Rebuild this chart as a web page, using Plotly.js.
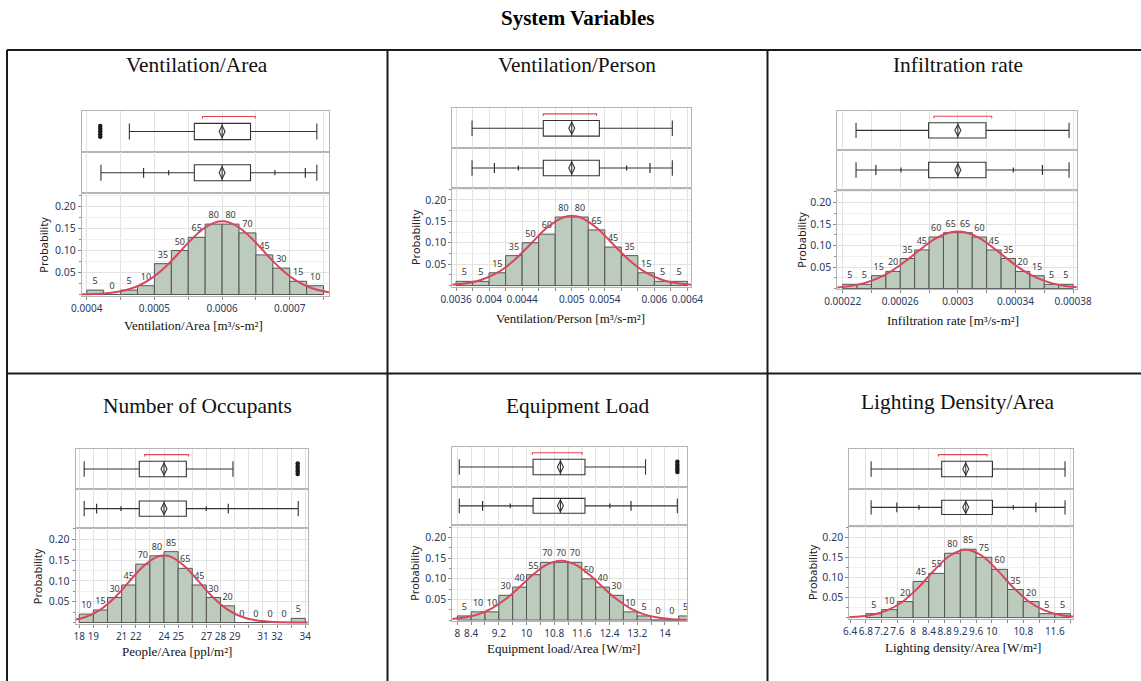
<!DOCTYPE html>
<html>
<head>
<meta charset="utf-8">
<script src="https://cdn.plot.ly/plotly-3.0.1.min.js"></script>
<style>
  html, body { margin: 0; padding: 0; background: #ffffff; }
  #chart { width: 1141px; height: 681px; }
</style>
</head>
<body>
<div id="chart"></div>
<script>
// ---------------- Ventilation/Area ----------------
const ventAreaCounts = [5, 0, 5, 10, 35, 50, 65, 80, 80, 70, 45, 30, 15, 10];
const ventAreaBinStart = 0.0004;
const ventAreaBinWidth = 0.000025;
const ventAreaBox = [0.000463, 0.000559, 0.0006, 0.000642, 0.00074];          // whisker lo, Q1, median, Q3, whisker hi
const ventAreaMean = 0.0006;
const ventAreaShortestHalf = [0.000571, 0.000649];
const ventAreaOutliers = [0.00042, 0.00042, 0.00042, 0.00042, 0.00042];
const ventAreaQuantiles = [0.000421, 0.000484, 0.000521, 0.000678, 0.000723, 0.00074]; // min, 2.5%, 10%, 90%, 97.5%, max
const ventAreaCurveX = [0.00039, 0.00041, 0.00043, 0.00045, 0.00047, 0.00049, 0.00051, 0.00053, 0.00055, 0.00057, 0.00059, 0.0006,
                        0.00061, 0.00063, 0.00065, 0.00067, 0.00069, 0.00071, 0.00073, 0.00075, 0.00077];
const ventAreaCurveY = [0.0004, 0.0011, 0.0030, 0.0073, 0.0159, 0.0310, 0.0540, 0.0841, 0.1175, 0.1467, 0.1639, 0.1662,
                        0.1639, 0.1467, 0.1175, 0.0841, 0.0540, 0.0310, 0.0159, 0.0073, 0.0030];
const ventAreaTickVals = [0.0004, 0.0005, 0.0006, 0.0007];
const ventAreaTickText = ['0.0004', '0.0005', '0.0006', '0.0007'];

// ---------------- Ventilation/Person ----------------
const ventPersonCounts = [5, 5, 15, 35, 50, 60, 80, 80, 65, 45, 35, 15, 5, 5];
const ventPersonBinStart = 0.0036;
const ventPersonBinWidth = 0.0002;
const ventPersonBox = [0.003794, 0.004656, 0.005, 0.005334, 0.006217];
const ventPersonMean = 0.005;
const ventPersonShortestHalf = [0.004656, 0.005301];
const ventPersonOutliers = [];
const ventPersonQuantiles = [0.003794, 0.004064, 0.004354, 0.005664, 0.005947, 0.006217];
const ventPersonCurveX = [0.0035, 0.0037, 0.0039, 0.0041, 0.0043, 0.0045, 0.0047, 0.0049, 0.005,
                          0.0051, 0.0053, 0.0055, 0.0057, 0.0059, 0.0061, 0.0063, 0.0065];
const ventPersonCurveY = [0.0015, 0.0048, 0.0131, 0.0301, 0.0587, 0.0967, 0.1350, 0.1594, 0.1628,
                          0.1594, 0.1350, 0.0967, 0.0587, 0.0301, 0.0131, 0.0048, 0.0015];
const ventPersonTickVals = [0.0036, 0.004, 0.0044, 0.005, 0.0054, 0.006, 0.0064];
const ventPersonTickText = ['0.0036', '0.004', '0.0044', '0.005', '0.0054', '0.006', '0.0064'];

// ---------------- Infiltration rate ----------------
const infilCounts = [5, 5, 15, 20, 35, 45, 60, 65, 65, 60, 45, 35, 20, 15, 5, 5];
const infilBinStart = 0.00022;
const infilBinWidth = 0.00001;
const infilBox = [0.0002293, 0.0002797, 0.0003, 0.0003195, 0.0003772];
const infilMean = 0.0003;
const infilShortestHalf = [0.0002834, 0.0003235];
const infilOutliers = [];
const infilQuantiles = [0.0002293, 0.0002431, 0.0002605, 0.0003385, 0.0003587, 0.0003772];
const infilCurveX = [0.000215, 0.000225, 0.000235, 0.000245, 0.000255, 0.000265, 0.000275, 0.000285, 0.000295, 0.0003,
                     0.000305, 0.000315, 0.000325, 0.000335, 0.000345, 0.000355, 0.000365, 0.000375, 0.000385];
const infilCurveY = [0.0024, 0.0058, 0.0127, 0.0248, 0.0432, 0.0673, 0.0940, 0.1174, 0.1312, 0.1330,
                     0.1312, 0.1174, 0.0940, 0.0673, 0.0432, 0.0248, 0.0127, 0.0058, 0.0024];
const infilTickVals = [0.00022, 0.00026, 0.0003, 0.00034, 0.00038];
const infilTickText = ['0.00022', '0.00026', '0.0003', '0.00034', '0.00038'];

// ---------------- Number of Occupants ----------------
const occCounts = [10, 15, 30, 45, 70, 80, 85, 65, 45, 30, 20, 0, 0, 0, 0, 5];
const occBinStart = 18;
const occBinWidth = 1;
const occBox = [18.35, 22.25, 24.0, 25.58, 28.88];
const occMean = 24.0;
const occShortestHalf = [22.63, 25.74];
const occOutliers = [33.46, 33.46, 33.46, 33.46, 33.46];
const occQuantiles = [18.35, 19.23, 20.95, 26.99, 28.55, 33.5];
const occCurveX = [17.5, 18.5, 19.5, 20.5, 21.5, 22.5, 23.5, 24, 24.5, 25.5, 26.5, 27.5, 28.5, 29.5, 30.5, 31.5, 32.5, 33.5, 34.5];
const occCurveY = [0.0052, 0.0138, 0.0310, 0.0594, 0.0968, 0.1340, 0.1577, 0.1609, 0.1577, 0.1340, 0.0968, 0.0594,
                   0.0310, 0.0138, 0.0052, 0.0017, 0.0005, 0.0001, 0.0000];
const occTickVals = [18, 19, 21, 22, 24, 25, 27, 28, 29, 31, 32, 34];
const occTickText = ['18', '19', '21', '22', '24', '25', '27', '28', '29', '31', '32', '34'];

// ---------------- Equipment Load ----------------
const equipCounts = [5, 10, 10, 30, 40, 55, 70, 70, 70, 50, 40, 30, 10, 5, 0, 0, 5];
const equipBinStart = 8;
const equipBinWidth = 0.4;
const equipBox = [8.058, 10.19, 10.98, 11.69, 13.44];
const equipMean = 10.98;
const equipShortestHalf = [10.17, 11.61];
const equipOutliers = [14.36, 14.36, 14.36, 14.36, 14.36];
const equipQuantiles = [8.058, 8.73, 9.53, 12.41, 13.02, 14.36];
const equipCurveX = [7.8, 8.2, 8.6, 9.0, 9.4, 9.8, 10.2, 10.6, 11.0, 11.4, 11.8, 12.2, 12.6, 13.0, 13.4, 13.8, 14.2, 14.6, 15.0];
const equipCurveY = [0.0023, 0.0060, 0.0139, 0.0284, 0.0509, 0.0802, 0.1109, 0.1348, 0.1438, 0.1348, 0.1109, 0.0802,
                     0.0509, 0.0284, 0.0139, 0.0060, 0.0023, 0.0007, 0.0002];
const equipTickVals = [8, 8.4, 9.2, 10, 10.8, 11.6, 12.4, 13.2, 14];
const equipTickText = ['8', '8.4', '9.2', '10', '10.8', '11.6', '12.4', '13.2', '14'];

// ---------------- Lighting Density/Area ----------------
const lightCounts = [5, 10, 20, 45, 55, 80, 85, 75, 60, 35, 20, 5, 5];
const lightBinStart = 6.8;
const lightBinWidth = 0.4;
const lightBox = [6.934, 8.727, 9.338, 10.017, 11.86];
const lightMean = 9.338;
const lightShortestHalf = [8.643, 9.883];
const lightOutliers = [];
const lightQuantiles = [6.934, 7.587, 8.149, 10.544, 11.12, 11.86];
const lightCurveX = [6.34, 6.54, 6.94, 7.34, 7.74, 8.14, 8.54, 8.94, 9.34, 9.74, 10.14, 10.54, 10.94, 11.34, 11.74, 12.14];
const lightCurveY = [0.0011, 0.0021, 0.0067, 0.0180, 0.0403, 0.0754, 0.1180, 0.1544, 0.1689, 0.1544, 0.1180, 0.0754,
                     0.0403, 0.0180, 0.0067, 0.0021];
const lightTickVals = [6.4, 6.8, 7.2, 7.6, 8, 8.4, 8.8, 9.2, 9.6, 10, 10.8, 11.6];
const lightTickText = ['6.4', '6.8', '7.2', '7.6', '8', '8.4', '8.8', '9.2', '9.6', '10', '10.8', '11.6'];

const probTickVals = [0.05, 0.10, 0.15, 0.20];
const probTickText = ['0.05', '0.10', '0.15', '0.20'];

// ---------------- page geometry and styles ----------------
const W = 1141, H = 681;
const px = v => v / W;
const py = v => 1 - v / H;

const SANS = 'Noto Sans, Open Sans, sans-serif';
const SERIF = 'Liberation Serif, Times New Roman, serif';
const TICK_COLOR = '#2b3a5f';
const TICK_SIZE = 10;
const FRAME = '#b4b4b4';
const GRID = '#e2e2e2';
const GRID_MINOR = '#efefef';
const INK = '#333333';
const BAR_FILL = '#bccbbb';
const BAR_EDGE = '#555555';
const CURVE = '#d8455c';
const BRACKET = '#e5454f';
const BOX_W = 0.78;
const BRACKET_Y = 0.72;
const JITTER = [0.27, 0.13, 0.0, -0.13, -0.25];

const panels = [
  { title: 'Ventilation/Area', xTitle: 'Ventilation/Area [m³/s-m²]',
    counts: ventAreaCounts, binStart: ventAreaBinStart, binWidth: ventAreaBinWidth,
    box: ventAreaBox, mean: ventAreaMean, half: ventAreaShortestHalf, outliers: ventAreaOutliers,
    quant: ventAreaQuantiles, curveX: ventAreaCurveX, curveY: ventAreaCurveY,
    tickVals: ventAreaTickVals, tickText: ventAreaTickText,
    f: { l: 82, r: 329, t1: 110.7, t2: 152.3, t3: 193.3, b: 296 },
    xRange: [0.000393, 0.000758], yRange: [-0.0034, 0.230], grid0: 0.0004, gridStep: 0.00005,
    titlePos: [197, 65], xTitlePos: [193, 326], probX: 44 },
  { title: 'Ventilation/Person', xTitle: 'Ventilation/Person [m³/s-m²]',
    counts: ventPersonCounts, binStart: ventPersonBinStart, binWidth: ventPersonBinWidth,
    box: ventPersonBox, mean: ventPersonMean, half: ventPersonShortestHalf, outliers: ventPersonOutliers,
    quant: ventPersonQuantiles, curveX: ventPersonCurveX, curveY: ventPersonCurveY,
    tickVals: ventPersonTickVals, tickText: ventPersonTickText,
    f: { l: 452.3, r: 691, t1: 108.3, t2: 148.3, t3: 187.7, b: 286.5 },
    xRange: [0.003555, 0.006443], yRange: [-0.002, 0.2284], grid0: 0.0036, gridStep: 0.0002,
    titlePos: [577, 65], xTitlePos: [570, 318], probX: 415 },
  { title: 'Infiltration rate', xTitle: 'Infiltration rate [m³/s-m²]',
    counts: infilCounts, binStart: infilBinStart, binWidth: infilBinWidth,
    box: infilBox, mean: infilMean, half: infilShortestHalf, outliers: infilOutliers,
    quant: infilQuantiles, curveX: infilCurveX, curveY: infilCurveY,
    tickVals: infilTickVals, tickText: infilTickText,
    f: { l: 837.3, r: 1076.7, t1: 110.7, t2: 150, t3: 190, b: 289.3 },
    xRange: [0.0002163, 0.0003825], yRange: [-0.0016, 0.2293], grid0: 0.00022, gridStep: 0.00002,
    titlePos: [958, 65], xTitlePos: [953, 320], probX: 802 },
  { title: 'Number of Occupants', xTitle: 'People/Area [ppl/m²]',
    counts: occCounts, binStart: occBinStart, binWidth: occBinWidth,
    box: occBox, mean: occMean, half: occShortestHalf, outliers: occOutliers,
    quant: occQuantiles, curveX: occCurveX, curveY: occCurveY,
    tickVals: occTickVals, tickText: occTickText,
    f: { l: 75.7, r: 307.7, t1: 449, t2: 489, t3: 528.3, b: 624 },
    xRange: [17.75, 34.17], yRange: [-0.0036, 0.2261], grid0: 18, gridStep: 1,
    titlePos: [197, 406], xTitlePos: [177, 651], probX: 37 },
  { title: 'Equipment Load', xTitle: 'Equipment load/Area [W/m²]',
    counts: equipCounts, binStart: equipBinStart, binWidth: equipBinWidth,
    box: equipBox, mean: equipMean, half: equipShortestHalf, outliers: equipOutliers,
    quant: equipQuantiles, curveX: equipCurveX, curveY: equipCurveY,
    tickVals: equipTickVals, tickText: equipTickText,
    f: { l: 452.3, r: 686.7, t1: 447.3, t2: 486.7, t3: 525, b: 620.7 },
    xRange: [7.855, 14.63], yRange: [-0.0015, 0.2304], grid0: 8, gridStep: 0.4,
    titlePos: [577, 406], xTitlePos: [563, 648], probX: 415 },
  { title: 'Lighting Density/Area', xTitle: 'Lighting density/Area [W/m²]',
    counts: lightCounts, binStart: lightBinStart, binWidth: lightBinWidth,
    box: lightBox, mean: lightMean, half: lightShortestHalf, outliers: lightOutliers,
    quant: lightQuantiles, curveX: lightCurveX, curveY: lightCurveY,
    tickVals: lightTickVals, tickText: lightTickText,
    f: { l: 849.3, r: 1073.3, t1: 449, t2: 489, t3: 525.7, b: 618.5 },
    xRange: [6.38, 12.07], yRange: [-0.002, 0.2284], grid0: 6.4, gridStep: 0.4,
    titlePos: [958, 402], xTitlePos: [963, 647], probX: 812 }
];

const traces = [];
const layout = {
  width: W, height: H,
  margin: { l: 0, r: 0, t: 0, b: 0 },
  paper_bgcolor: '#ffffff', plot_bgcolor: '#ffffff',
  showlegend: false,
  font: { family: SANS, color: INK },
  annotations: [], shapes: []
};

const axName = k => (k === 1 ? '' : String(k));

function frameAxis(extra) {
  return Object.assign({
    showline: true, mirror: true, linecolor: FRAME, linewidth: 1,
    zeroline: false, fixedrange: true
  }, extra);
}

function boxXAxis(p, k) {
  return frameAxis({
    domain: [px(p.f.l), px(p.f.r)], anchor: 'y' + axName(k), range: p.xRange,
    tickmode: 'linear', tick0: p.grid0, dtick: p.gridStep,
    showgrid: true, gridcolor: GRID, showticklabels: false, ticks: ''
  });
}
function boxYAxis(top, bottom, k) {
  return frameAxis({
    domain: [py(bottom), py(top)], anchor: 'x' + axName(k), range: [-1, 1],
    showgrid: false, showticklabels: false, ticks: ''
  });
}

function addBoxPlot(p, k, fences, ticks) {
  const xa = 'x' + axName(k), ya = 'y' + axName(k);
  traces.push({
    type: 'box', orientation: 'h', xaxis: xa, yaxis: ya,
    y: [0], q1: [p.box[1]], median: [p.box[2]], q3: [p.box[3]],
    lowerfence: [fences[0]], upperfence: [fences[1]],
    width: BOX_W, whiskerwidth: 1, boxpoints: false,
    fillcolor: 'rgba(255,255,255,0)', line: { color: INK, width: 1.1 },
    hoverinfo: 'skip'
  });
  if (ticks) {
    traces.push({
      type: 'scatter', mode: 'markers', xaxis: xa, yaxis: ya,
      x: [ticks[0], ticks[3]], y: [0, 0],
      marker: { symbol: 'line-ns', size: 7, line: { color: INK, width: 1.2 } }, hoverinfo: 'skip'
    });
    traces.push({
      type: 'scatter', mode: 'markers', xaxis: xa, yaxis: ya,
      x: [ticks[1], ticks[2]], y: [0, 0],
      marker: { symbol: 'line-ns', size: 3.5, line: { color: INK, width: 1.2 } }, hoverinfo: 'skip'
    });
  }
  traces.push({
    type: 'scatter', mode: 'markers', xaxis: xa, yaxis: ya,
    x: [p.mean], y: [0],
    marker: { symbol: 'diamond-tall-open', size: 8.5, color: INK, line: { color: INK, width: 1.1 } },
    hoverinfo: 'skip'
  });
}

panels.forEach((p, i) => {
  const k1 = 3 * i + 1, k2 = 3 * i + 2, k3 = 3 * i + 3;

  // outlier box plot with shortest-half bracket
  layout['xaxis' + axName(k1)] = boxXAxis(p, k1);
  layout['yaxis' + axName(k1)] = boxYAxis(p.f.t1, p.f.t2, k1);
  addBoxPlot(p, k1, [p.box[0], p.box[4]], null);
  traces.push({
    type: 'scatter', mode: 'lines', xaxis: 'x' + axName(k1), yaxis: 'y' + axName(k1),
    x: [p.half[0], p.half[0], p.half[1], p.half[1]],
    y: [BRACKET_Y - 0.1, BRACKET_Y, BRACKET_Y, BRACKET_Y - 0.1],
    line: { color: BRACKET, width: 1.1 }, hoverinfo: 'skip'
  });
  if (p.outliers.length) {
    traces.push({
      type: 'scatter', mode: 'markers', xaxis: 'x' + axName(k1), yaxis: 'y' + axName(k1),
      x: p.outliers, y: p.outliers.map((_, j) => JITTER[j % JITTER.length]),
      marker: { symbol: 'circle', size: 4.5, color: '#1a1a1a' }, hoverinfo: 'skip'
    });
  }

  // quantile box plot
  layout['xaxis' + axName(k2)] = boxXAxis(p, k2);
  layout['yaxis' + axName(k2)] = boxYAxis(p.f.t2, p.f.t3, k2);
  addBoxPlot(p, k2, [p.quant[0], p.quant[5]], p.quant.slice(1, 5));

  // histogram with fitted normal curve
  const total = p.counts.reduce((a, b) => a + b, 0);
  const centers = p.counts.map((_, j) => p.binStart + p.binWidth * (j + 0.5));
  layout['xaxis' + axName(k3)] = frameAxis({
    domain: [px(p.f.l), px(p.f.r)], anchor: 'y' + axName(k3), range: p.xRange,
    tickmode: 'array', tickvals: p.tickVals, ticktext: p.tickText, tickangle: 0,
    ticks: 'outside', ticklen: 3, tickcolor: '#8a8a8a',
    tickfont: { family: SANS, size: TICK_SIZE, color: TICK_COLOR },
    showgrid: true, gridcolor: GRID,
    minor: { tickmode: 'linear', tick0: p.grid0, dtick: p.gridStep, showgrid: true, gridcolor: GRID,
             ticks: 'outside', ticklen: 3, tickcolor: '#8a8a8a' }
  });
  layout['yaxis' + axName(k3)] = frameAxis({
    domain: [py(p.f.b), py(p.f.t3)], anchor: 'x' + axName(k3), range: p.yRange,
    tickmode: 'array', tickvals: probTickVals, ticktext: probTickText,
    ticks: 'outside', ticklen: 3, tickcolor: '#8a8a8a',
    tickfont: { family: SANS, size: TICK_SIZE + 0.5, color: TICK_COLOR },
    showgrid: true, gridcolor: GRID,
    minor: { tickmode: 'linear', tick0: 0, dtick: 0.025, showgrid: true, gridcolor: GRID_MINOR,
             ticks: 'outside', ticklen: 2, tickcolor: '#8a8a8a' }
  });
  traces.push({
    type: 'bar', xaxis: 'x' + axName(k3), yaxis: 'y' + axName(k3),
    x: centers, y: p.counts.map(c => c / total), width: p.binWidth,
    marker: { color: BAR_FILL, line: { color: BAR_EDGE, width: 1 } },
    text: p.counts.map(String), textposition: 'outside', constraintext: 'none',
    textfont: { family: SANS, size: 9, color: '#3a3a3a' }, cliponaxis: false,
    hoverinfo: 'skip'
  });
  traces.push({
    type: 'scatter', mode: 'lines', xaxis: 'x' + axName(k3), yaxis: 'y' + axName(k3),
    x: p.curveX, y: p.curveY, line: { color: CURVE, width: 2, shape: 'spline' },
    hoverinfo: 'skip'
  });

  // titles
  layout.annotations.push({
    xref: 'paper', yref: 'paper', x: px(p.titlePos[0]), y: py(p.titlePos[1]),
    text: p.title, showarrow: false, xanchor: 'center', yanchor: 'middle',
    font: { family: SERIF, size: 21.4, color: '#111111' }
  });
  layout.annotations.push({
    xref: 'paper', yref: 'paper', x: px(p.xTitlePos[0]), y: py(p.xTitlePos[1]),
    text: p.xTitle, showarrow: false, xanchor: 'center', yanchor: 'middle',
    font: { family: SERIF, size: 13, color: '#111111' }
  });
  layout.annotations.push({
    xref: 'paper', yref: 'paper', x: px(p.probX), y: py((p.f.t3 + p.f.b) / 2),
    text: 'Probability', showarrow: false, textangle: -90, xanchor: 'center', yanchor: 'middle',
    font: { family: SANS, size: 11, color: '#222222' }
  });
});

layout.annotations.push({
  xref: 'paper', yref: 'paper', x: px(577), y: py(18),
  text: '<b>System Variables</b>', showarrow: false, xanchor: 'center', yanchor: 'middle',
  font: { family: SERIF, size: 21, color: '#000000' }
});

// table rules around the six panels
const rule = { color: '#1a1a1a', width: 2 };
[
  [7, 50, W, 50], [7, 373.5, W, 373.5],
  [7, 50, 7, H], [387.5, 50, 387.5, H], [767.5, 50, 767.5, H]
].forEach(([x0, y0, x1, y1]) => {
  layout.shapes.push({ type: 'line', xref: 'paper', yref: 'paper',
    x0: px(x0), y0: py(y0), x1: px(x1), y1: py(y1), line: rule });
});

Plotly.newPlot('chart', traces, layout, { staticPlot: true, displayModeBar: false });
</script>
</body>
</html>
